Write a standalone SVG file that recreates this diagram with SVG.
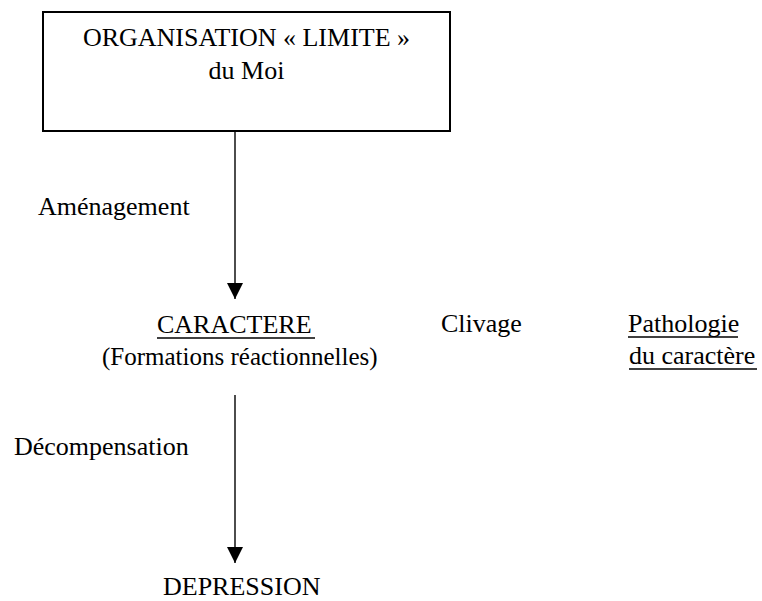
<svg xmlns="http://www.w3.org/2000/svg" width="762" height="601" viewBox="0 0 762 601">
<style>
text{font-size:26px;fill:#000;font-family:'Liberation Serif','Times New Roman',serif}
.c{text-anchor:middle}
.s{font-size:25px}
.u{stroke:#000;stroke-width:1.6}
.e{stroke:#000;stroke-width:1.4;fill:none}
</style>
<defs>
<marker id="ah" markerUnits="userSpaceOnUse" markerWidth="16" markerHeight="16" refX="16" refY="8" viewBox="0 0 16 16" orient="auto">
<path d="M0,0 L16,8 L0,16 Z" fill="#000"/>
</marker>
</defs>
<rect width="762" height="601" fill="#fff"/>
<g id="organisation">
<rect x="43" y="12" width="407" height="119" fill="#fff" stroke="#000" stroke-width="2"/>
<text class="c" x="246.5" y="46">ORGANISATION « LIMITE »</text>
<text class="c" x="246.5" y="79">du Moi</text>
</g>
<g id="caractere">
<text x="157" y="333">CARACTERE</text>
<line class="u" x1="157" y1="338" x2="315" y2="338"/>
<text class="s" x="102" y="365">(Formations réactionnelles)</text>
</g>
<g id="clivage">
<text x="441" y="332">Clivage</text>
</g>
<g id="pathologie">
<text x="628" y="332">Pathologie</text>
<line class="u" x1="628" y1="337" x2="738" y2="337"/>
<text x="629" y="364">du caractère</text>
<line class="u" x1="629" y1="369" x2="757" y2="369"/>
</g>
<g id="depression">
<text x="163" y="595">DEPRESSION</text>
</g>
<g id="connectors">
<line class="e" x1="235" y1="131" x2="235" y2="299" marker-end="url(#ah)"/>
<text x="38" y="215">Aménagement</text>
<line class="e" x1="235" y1="395" x2="235" y2="563" marker-end="url(#ah)"/>
<text x="14" y="455">Décompensation</text>
</g>
</svg>
